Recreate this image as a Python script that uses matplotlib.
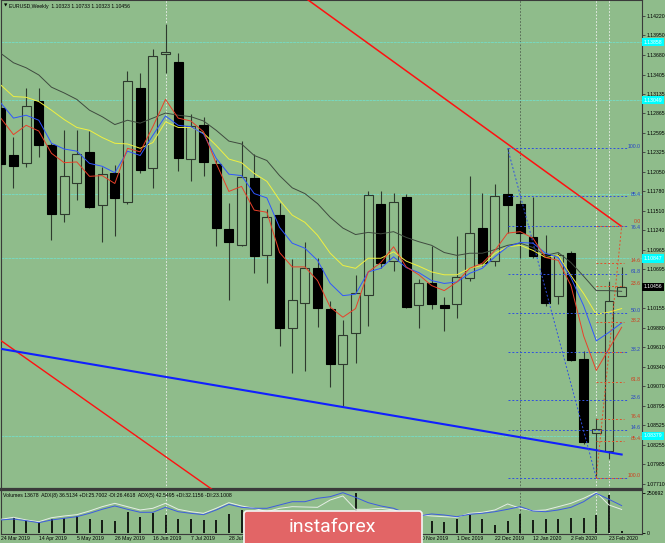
import numpy as np
import matplotlib.pyplot as plt
from matplotlib.patches import Rectangle, FancyBboxPatch

W, H = 665, 543
BG = '#8fbc8b'
FONT = ['DejaVu Sans Condensed', 'Liberation Sans Narrow', 'Liberation Sans', 'DejaVu Sans']
plt.rcParams['font.family'] = FONT
FS = 3.7

# weekly EURUSD candles, 24 Mar 2019 .. 1 Mar 2020
opens = [1.12938, 1.12282, 1.12171, 1.13035, 1.12422, 1.11460, 1.11892, 1.12324, 1.11585, 1.12031,
         1.11627, 1.13216, 1.12101, 1.13690, 1.13579, 1.12227, 1.12701, 1.12157, 1.11251, 1.11028,
         1.11962, 1.10902, 1.11446, 1.09885, 1.10233, 1.10721, 1.10150, 1.09383, 1.09815, 1.10345,
         1.11599, 1.10805, 1.11697, 1.10205, 1.10512, 1.10205, 1.10219, 1.10582, 1.11265, 1.10805,
         1.11739, 1.11599, 1.11139, 1.10916, 1.10331, 1.10930, 1.09453, 1.08421, 1.08170, 1.10323]
highs = [1.13300, 1.12533, 1.13216, 1.13216, 1.12450, 1.12631, 1.12631, 1.12617, 1.12115, 1.12143,
         1.13453, 1.13425, 1.13760, 1.14108, 1.13704, 1.12854, 1.12812, 1.12213, 1.11613, 1.12478,
         1.12296, 1.11530, 1.11613, 1.10833, 1.11070, 1.10847, 1.10261, 1.09996, 1.10623, 1.11781,
         1.11781, 1.11753, 1.11739, 1.10568, 1.11014, 1.10317, 1.11153, 1.11990, 1.11753, 1.11878,
         1.12380, 1.11655, 1.11697, 1.11167, 1.10930, 1.10958, 1.09564, 1.08630, 1.10540, 1.10733]
lows = [1.12101, 1.11822, 1.12115, 1.12254, 1.11111, 1.11348, 1.11655, 1.11544, 1.11070, 1.11153,
        1.11599, 1.12031, 1.11822, 1.13425, 1.12059, 1.11920, 1.11990, 1.11014, 1.10275, 1.11014,
        1.10651, 1.10512, 1.09634, 1.09257, 1.09285, 1.09899, 1.09062, 1.08797, 1.09397, 1.09913,
        1.10721, 1.10679, 1.10163, 1.09885, 1.10150, 1.09843, 1.10024, 1.10540, 1.10749, 1.10749,
        1.11195, 1.10847, 1.10860, 1.10191, 1.10219, 1.09425, 1.08268, 1.07794, 1.08059, 1.10323]
closes = [1.12157, 1.12129, 1.12965, 1.12422, 1.11460, 1.11990, 1.12296, 1.11557, 1.12017, 1.11683,
          1.13314, 1.12073, 1.13662, 1.13718, 1.12241, 1.12687, 1.12185, 1.11265, 1.11070, 1.11976,
          1.10888, 1.11418, 1.09885, 1.10275, 1.10721, 1.10163, 1.09383, 1.09787, 1.10373, 1.11725,
          1.10791, 1.11627, 1.10177, 1.10512, 1.10219, 1.10163, 1.10596, 1.11195, 1.10791, 1.11711,
          1.11585, 1.11195, 1.10888, 1.10233, 1.10902, 1.09439, 1.08296, 1.08477, 1.10261, 1.10456]

# moving averages (slow gray, yellow, blue, fast red)
ma_gray = [1.1370, 1.1357, 1.1350, 1.1340, 1.1323, 1.1315, 1.1306, 1.1291, 1.1282, 1.1271,
           1.1277, 1.1273, 1.1280, 1.1287, 1.1284, 1.1282, 1.1276, 1.1263, 1.1248, 1.1244,
           1.1228, 1.1221, 1.1200, 1.1183, 1.1175, 1.1161, 1.1142, 1.1127, 1.1118, 1.1121,
           1.1119, 1.1122, 1.1114, 1.1108, 1.1103, 1.1093, 1.1089, 1.1092, 1.1092, 1.1097,
           1.1103, 1.1106, 1.1100, 1.1089, 1.1093, 1.1079, 1.1060, 1.1040, 1.1040, 1.1039]
ma_yellow = [1.1326, 1.1310, 1.1309, 1.1303, 1.1291, 1.1278, 1.1267, 1.1263, 1.1253, 1.1245,
             1.1244, 1.1238, 1.1246, 1.1275, 1.1267, 1.1267, 1.1259, 1.1242, 1.1223, 1.1218,
             1.1203, 1.1192, 1.1166, 1.1145, 1.1135, 1.1117, 1.1092, 1.1075, 1.1071, 1.1085,
             1.1085, 1.1094, 1.1081, 1.1074, 1.1066, 1.1062, 1.1062, 1.1071, 1.1075, 1.1092,
             1.1101, 1.1103, 1.1096, 1.1086, 1.1089, 1.1061, 1.1036, 1.1007, 1.1010, 1.1015]
ma_blue = [1.1301, 1.1280, 1.1284, 1.1277, 1.1245, 1.1237, 1.1234, 1.1217, 1.1213, 1.1204,
           1.1234, 1.1228, 1.1256, 1.1283, 1.1270, 1.1268, 1.1258, 1.1224, 1.1202, 1.1200,
           1.1175, 1.1169, 1.1128, 1.1106, 1.1099, 1.1082, 1.1050, 1.1033, 1.1035, 1.1066,
           1.1071, 1.1087, 1.1072, 1.1065, 1.1054, 1.1050, 1.1052, 1.1064, 1.1071, 1.1087,
           1.1101, 1.1107, 1.1106, 1.1092, 1.1086, 1.1058, 1.1019, 1.0970, 1.0982, 1.0995]
ma_red = [1.1280, 1.1257, 1.1270, 1.1262, 1.1231, 1.1218, 1.1219, 1.1199, 1.1200, 1.1189,
          1.1238, 1.1233, 1.1268, 1.1306, 1.1280, 1.1276, 1.1261, 1.1217, 1.1178, 1.1185,
          1.1152, 1.1149, 1.1093, 1.1073, 1.1073, 1.1054, 1.1017, 1.1003, 1.1015, 1.1066,
          1.1079, 1.1101, 1.1073, 1.1062, 1.1047, 1.1040, 1.1052, 1.1071, 1.1078, 1.1096,
          1.1120, 1.1122, 1.1113, 1.1086, 1.1082, 1.1047, 1.0977, 1.0929, 1.0959, 1.0989]

volumes = [133500, 98400, 77100, 64500, 85900, 92100, 106500, 85900, 81500, 77100,
           129700, 98400, 123500, 114700, 87700, 85900, 81500, 81500, 119100, 144100,
           105000, 95000, 110000, 100000, 95000, 115000, 105000, 110000, 250692, 110000,
           100000, 95000, 90000, 85000, 75200, 70800, 85900, 112800, 85900, 50100,
           75200, 117200, 81500, 85900, 87700, 95900, 92100, 112800, 238100, 13678]
adx5 = [20.2, 21.7, 19.1, 16.0, 20.2, 22.8, 25.3, 30.5, 36.7, 41.9,
        36.7, 32.1, 32.1, 39.8, 33.0, 30.5, 28.4, 35.7, 44.5, 39.8,
        38.3, 38.3, 43.4, 48.5, 48.5, 53.8, 56.3, 62.5, 55.3, 47.0,
        41.9, 38.3, 30.5, 26.4, 29.5, 27.9, 25.3, 29.0, 30.5, 33.0,
        36.7, 40.8, 34.1, 33.0, 35.7, 39.8, 48.5, 61.5, 52.2, 42.5]
adx8 = [21.2, 24.3, 20.2, 17.5, 23.7, 26.4, 28.4, 34.1, 40.8, 46.0,
        40.8, 35.7, 38.3, 46.0, 36.7, 33.0, 30.5, 38.3, 47.0, 41.9,
        38.3, 33.0, 38.3, 40.8, 40.3, 39.8, 51.2, 57.4, 36.7, 36.7,
        38.3, 35.7, 30.5, 28.4, 26.4, 25.3, 24.3, 30.5, 32.1, 35.7,
        45.0, 38.3, 34.6, 35.7, 40.8, 46.0, 53.8, 63.1, 43.4, 36.5]

date_labels = ['24 Mar 2019', '14 Apr 2019', '5 May 2019', '26 May 2019', '16 Jun 2019',
               '7 Jul 2019', '28 Jul 2019', '18 Aug 2019', '8 Sep 2019', '29 Sep 2019',
               '20 Oct 2019', '10 Nov 2019', '1 Dec 2019', '22 Dec 2019', '12 Jan 2020',
               '2 Feb 2020', '23 Feb 2020']
price_ticks = [1.14220, 1.13950, 1.13680, 1.13405, 1.13135, 1.12865, 1.12595, 1.12325,
               1.12050, 1.11780, 1.11510, 1.11240, 1.10965, 1.10695, 1.10155, 1.09880,
               1.09610, 1.09340, 1.09070, 1.08795, 1.08525, 1.08255, 1.07985, 1.07710]
cyan_levels = [1.13858, 1.13049, 1.11739, 1.10847, 1.08379]
cyan_tags = [1.13858, 1.13049, 1.10847, 1.08379]
fib_levels = [0.0, 14.6, 23.6, 38.2, 50.0, 61.8, 76.4, 85.4, 100.0]
fib_blue = (40, 1.12380, 47, 1.07794)   # 100 -> 0
fib_red = (47, 1.07794, 49, 1.11293)    # 100 -> 0
red_top = [(22, 1.1473), (49, 1.11293)]
red_low = [(-1, 1.0983), (18, 1.0747)]
blue_line = [(-1, 1.0962), (49, 1.0812)]


def box(x0, y0, x1, y1):
    return [x0 / W, 1 - y1 / H, (x1 - x0) / W, (y1 - y0) / H]


def bar_of(px):
    return (px - 0.8) / 12.67


fig = plt.figure(figsize=(W / 100, H / 100), dpi=100, facecolor=BG)
ax = fig.add_axes(box(1, 0, 642, 489))
ax2 = fig.add_axes(box(1, 490, 642, 534))
ax3 = fig.add_axes(box(1, 490, 642, 534))

xlim = (bar_of(1), bar_of(642))
for a in (ax, ax2, ax3):
    a.set_xlim(*xlim)
    a.set_facecolor(BG)
    for s in a.spines.values():
        s.set_color('#3a3a3a')
        s.set_linewidth(0.8)
ax3.set_facecolor('none')
ax3.axis('off')
ax.set_ylim(1.07640, 1.14443)
ax.spines['bottom'].set_linewidth(1.6)
ax2.spines['top'].set_linewidth(1.6)

n = len(opens)
xs = np.arange(n)

# vertical markers
for b, c in [(13, '#f2f2f2'), (41, '#4f5f4f'), (47, '#f2f2f2'), (48, '#f2f2f2')]:
    ax.axvline(b, color=c, lw=0.6, ls=(0, (2, 2)), zorder=1)
    ax2.axvline(b, color=c, lw=0.6, ls=(0, (2, 2)), zorder=1)

for lv in cyan_levels:
    ax.axhline(lv, color='#6fe3d2', lw=0.5, ls=(0, (4, 1)), zorder=1)

# candles
for i in range(n):
    o, h, l, c = opens[i], highs[i], lows[i], closes[i]
    ax.vlines(i, l, h, color='#2e3a2e', lw=0.8, zorder=2)
    up = c >= o
    ax.add_patch(Rectangle((i - 0.35, min(o, c)), 0.7, max(abs(c - o), 0.00008),
                           fc=BG if up else 'black', ec='#2e3a2e' if up else 'black',
                           lw=0.8, zorder=3))

# moving averages
ax.plot(xs, ma_gray, color='#3f4a3f', lw=0.7, zorder=4)
ax.plot(xs, ma_yellow, color='#f0f040', lw=0.7, zorder=4)
ax.plot(xs, ma_blue, color='#2f55ff', lw=0.7, zorder=4)
ax.plot(xs, ma_red, color='#e8402a', lw=0.7, zorder=4)

# trend lines
for pts, c, w in [(red_top, '#ff1010', 1.1), (red_low, '#ff1010', 1.0), (blue_line, '#1020ff', 1.5)]:
    ax.plot([p[0] for p in pts], [p[1] for p in pts], color=c, lw=w, zorder=5)

# fibonacci retracements
lab_x = bar_of(640.5)
fibs = [(fib_blue, '#3050e0', '#2440c8', bar_of(628), {76.4: -1.2}, {0.0}),
        (fib_red, '#e0502a', '#d23a1a', bar_of(624), {0.0: 3.2}, {50.0})]
for (b1, p1, b2, p2), col, tcol, xend, nudge, skip in fibs:
    ax.plot([b1, b2], [p1, p2], color=col, lw=0.7, ls=(0, (2, 2)), zorder=5)
    for lv in fib_levels:
        price = p2 + (p1 - p2) * lv / 100
        ax.plot([b1, xend], [price, price], color=col, lw=0.7, ls=(0, (2, 2)), zorder=5)
        if lv in skip:
            continue
        ax.annotate(f'{lv:.1f}', (lab_x, price), xytext=(0, nudge.get(lv, 1.6)),
                    textcoords='offset points', ha='right', va='center', fontsize=FS,
                    color=tcol, zorder=6)

# right price axis
ax.yaxis.tick_right()
ax.set_yticks(price_ticks)
ax.set_yticklabels([f'{p:.5f}' for p in price_ticks])
ax.tick_params(axis='y', length=2, width=0.6, color='#3a3a3a', pad=1.2, labelsize=FS)
ax.tick_params(axis='x', bottom=False, labelbottom=False)
ytr = ax.get_yaxis_transform()
for lv in cyan_tags:
    ax.text(1.003, lv, f'{lv:.5f}', transform=ytr, ha='left', va='center', fontsize=FS,
            color='white', clip_on=False, zorder=7,
            bbox=dict(boxstyle='square,pad=0.3', fc='#00ffff', ec='none'))
ax.text(1.003, closes[-1], f'{closes[-1]:.5f}', transform=ytr, ha='left', va='center',
        fontsize=FS, color='white', clip_on=False, zorder=7,
        bbox=dict(boxstyle='square,pad=0.3', fc='black', ec='none'))

ax.text(0.004, 0.992, '\u25bc', transform=ax.transAxes, fontsize=3.2, va='top',
        family=['DejaVu Sans'])
ax.text(0.012, 0.992, 'EURUSD,Weekly  1.10323 1.10733 1.10323 1.10456',
        transform=ax.transAxes, fontsize=FS, va='top')

# volume / ADX panel
ax2.vlines(xs, 0, volumes, color='black', lw=1.2, zorder=2)
ax2.set_ylim(-6267, 269481)
ax2.yaxis.tick_right()
ax2.set_yticks([0, 250692])
ax2.set_yticklabels(['0', '250692'])
ax2.tick_params(axis='y', length=2, width=0.6, pad=1.2, labelsize=FS)
ax2.set_xticks(np.arange(0, n, 3))
ax2.set_xticklabels(date_labels, ha='left')
ax2.tick_params(axis='x', length=0, pad=1.5, labelsize=FS)
ax3.set_ylim(-1.55, 66.65)
ax3.plot(xs, adx8, color='#e6eee6', lw=0.7)
ax3.plot(xs, adx5, color='#3d5be0', lw=0.7)
ax2.text(0.003, 0.93, 'Volumes 13678  ADX(8) 36.5134 +DI:25.7002 -DI:26.4618  '
         'ADX(5) 42.5495 +DI:32.1156 -DI:23.1008', transform=ax2.transAxes,
         fontsize=FS, va='top')

# watermark logo
ov = fig.add_axes([0, 0, 1, 1])
ov.set_xlim(0, W)
ov.set_ylim(H, 0)
ov.axis('off')
ov.add_patch(FancyBboxPatch((244, 511), 178, 40, boxstyle='round,pad=0,rounding_size=3',
                            fc='#e26566', ec='#f5f5f5', lw=1.2))
ov.text(332, 527, 'instaforex', color='white', fontsize=14, ha='center', va='center',
        family=['Roboto', 'DejaVu Sans'])

fig.savefig('out.png', dpi=100, facecolor=BG)
